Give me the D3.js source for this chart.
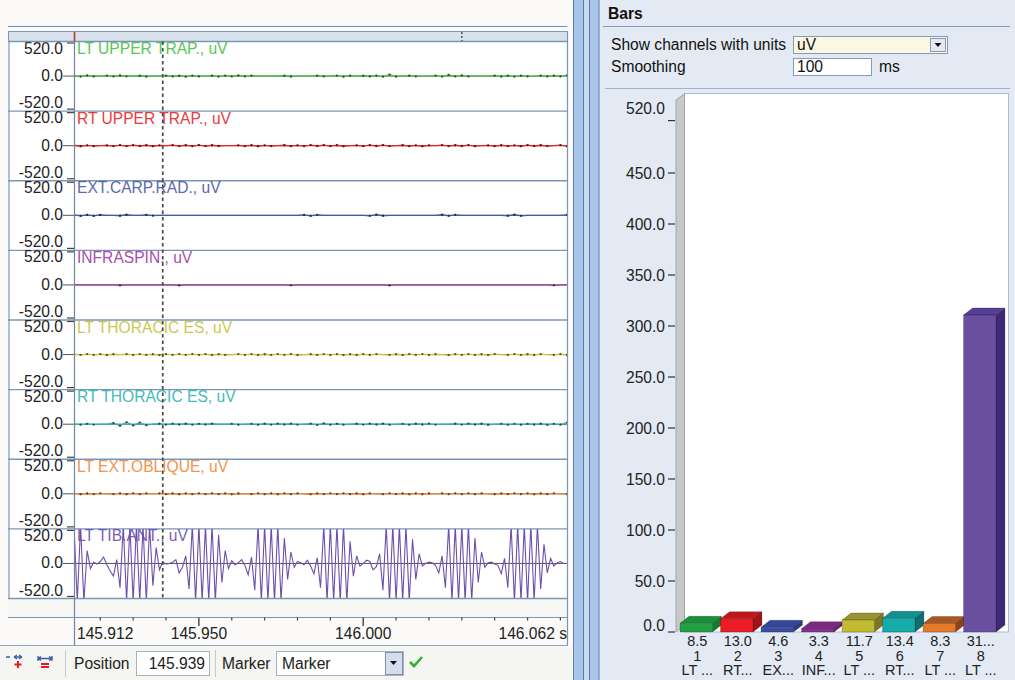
<!DOCTYPE html>
<html><head><meta charset="utf-8">
<script src="https://cdn.jsdelivr.net/npm/d3@7"></script>
<style>
body{margin:0;background:#fbfaf8;overflow:hidden;}
svg{display:block;font-family:"Liberation Sans",Arial,sans-serif;}
</style></head><body>
<svg id="c" width="1015" height="680"></svg>
<script>
// ---------------- DATA ----------------
const channels = ["LT UPPER TRAP.","RT UPPER TRAP.","EXT.CARP.RAD.","INFRASPIN.","LT THORACIC ES","RT THORACIC ES","LT EXT.OBLIQUE","LT TIB.ANT."];
const unitLabel = "uV";
const channelColors = ["#45c145","#e82626","#4a58a8","#a23a9f","#c8c43a","#2fb5b3","#ef8a3c","#6d4fae"];
const yTickVals = [520, 0, -520];
const yTickLabels = ["520.0","0.0","-520.0"];
const timeStart = 145.912, timeEnd = 146.062;
const timeTickVals = [145.912, 145.95, 146.0, 146.062];
const timeTickLabels = ["145.912","145.950","146.000","146.062 s"];
const minorTickVals = [145.92,145.93,145.94,145.96,145.97,145.98,145.99,146.01,146.02,146.03,146.04,146.05,146.06];
const cursorTime = 145.939;
const markerTime = 146.030;
const positionText = "145.939";

// small-amplitude channels, one value per 2 ms (uV)
const ch1 = [6,-8,10,-5,0,7,-6,9,-4,0, 5,-7,0,0,8,-6,5,-9,7,-5, 0,6,-8,7,-5,9,-6,8,0,0, 0,0,5,-7,0,0,0,6,-5,0,
             7,-9,6,0,5,-6,8,-10,22,-7, 0,6,-5,0,0,7,-8,18,-6,9, -5,0,0,0,6,-7,5,-8,6,-5, 0,8,-6,7,-5,12];
const ch2 = [7,-9,6,-8,0,5,-7,9,-6,8, -5,7,-9,6,0,8,-6,7,-8,9, -6,7,-5,0,0,6,-8,7,-9,5, -6,0,7,-8,6,-7,9,-5,8,-6,
             7,-9,0,6,-7,8,-5,9,-6,0, 7,-8,6,-9,5,0,8,-6,7,-5, 9,-7,0,6,-8,7,-6,5,-9,8, -5,7,-6,0,8,-7];
const ch3 = [8,-10,7,-9,6,0,0,-7,9,0, 0,8,-6,0,0,0,0,0,0,0, 0,0,0,0,0,0,0,0,0,0, 0,0,0,0,0,7,-9,8,0,0,
             0,0,0,0,0,-8,10,-7,0,0, 0,0,0,0,0,0,9,-8,7,0, 0,0,0,0,0,0,-7,9,-8,0, 0,0,0,0,0,6];
const ch4 = [0,0,0,0,0,0,0,-8,0,0, 0,0,0,0,0,0,-7,0,0,0, 0,0,0,0,0,0,0,0,0,0, 0,0,0,-6,0,0,0,0,0,0,
             0,0,0,0,0,0,0,0,-7,0, 0,0,0,0,0,0,0,0,0,0, 0,0,0,0,0,0,0,0,0,0, 0,0,0,-6,0,0];
const ch5 = [5,-6,7,-5,6,-7,5,0,6,-5, 7,-6,5,-8,6,-5,7,-6,8,-5, 6,-7,5,-6,0,7,-5,6,-7,5, -6,8,-5,6,-7,0,5,-6,7,-5,
             6,-8,5,-7,6,-5,7,0,-6,5, -7,6,-5,8,-6,5,0,-7,6,-5, 7,-6,5,-8,6,0,-5,7,-6,5, -7,6,0,-5,6,-7];
const ch6 = [6,-7,5,-6,0,0,18,-25,30,-20, 25,-15,0,7,-6,8,-5,7,-8,6, -5,7,0,0,6,-7,0,5,-8,7, -6,8,-5,7,-6,0,8,-10,14,-7,
             6,-8,0,7,-6,9,-5,8,-7,0, 6,-8,7,-5,9,-6,0,0,7,-6, 8,-5,7,-9,0,6,-7,5,-8,6, -5,7,-9,6,-8,25];
const ch7 = [6,-7,5,-6,7,0,-5,6,-7,8, -5,6,0,7,-6,5,-7,6,-5,8, -6,7,-5,6,-8,5,0,-6,7,-5, 6,-7,8,-5,6,0,-7,5,-6,7,
             -5,8,-6,5,-7,6,0,-5,7,-6, 5,-8,6,-7,5,0,6,-5,7,-6, 8,-5,6,0,-7,5,-6,7,-5,6, -8,5,-6,7,0,-5];
// LT TIB.ANT., one value per 1 ms (uV, saturates beyond +/-520)
const ch8 = [600,-600,600,-600,200,-80,20,-10,30,100,
             -20,-120,-200,60,-380,600,-600,600,-600,600,
             -600,600,-600,600,-350,250,-100,30,-10,0,
             20,60,-150,-60,120,-400,600,-600,600,-600,
             600,-600,600,-600,450,-300,200,-80,40,-20,
             10,60,-30,-180,100,-420,600,-600,600,-600,
             600,-600,600,-600,400,-250,180,-60,30,10,
             -20,50,-40,-160,90,-380,600,-600,600,-600,
             600,-600,600,-600,350,-200,120,-40,0,50,
             30,-100,-50,150,-420,600,-600,600,-600,600,
             -600,600,-600,380,-250,150,-40,0,20,10,
             -30,-150,120,-380,600,-600,600,-600,600,-600,
             600,-600,400,-300,180,-60,10,20,-10,-30,
             -160,80,-380,600,-600,600,-600,600,-600,600,
             -600,600,-400,300,-150,80,-40,10,30,0,
             0];
const signals = [ch1,ch2,ch3,ch4,ch5,ch6,ch7,ch8];

// bars panel
const barValues = [8.5,13.0,4.6,3.3,11.7,13.4,8.3,310.8];
const barValueLabels = ["8.5","13.0","4.6","3.3","11.7","13.4","8.3","31..."];
const barNumbers = ["1","2","3","4","5","6","7","8"];
const barNameLabels = ["LT ...","RT...","EX...","INF...","LT ...","RT...","LT ...","LT ..."];
const barTickVals = [0,50,100,150,200,250,300,350,400,450,520];
const barTickLabels = ["0.0","50.0","100.0","150.0","200.0","250.0","300.0","350.0","400.0","450.0","520.0"];
const barFront = ["#22a043","#ec1c24","#3a4ea0","#8b2d8f","#c2bb2f","#15aba9","#e5792a","#6a4f9f"];
const barTop   = ["#19913a","#c0161e","#34479a","#7a2880","#9a9532","#12918f","#a9561f","#573e96"];
const barSide  = ["#137a30","#9c1319","#283a82","#62206a","#7b7722","#0d6e6d","#8a4418","#3f2a78"];
const unitsOption = "uV", smoothingValue = "100", smoothingUnit = "ms";

// ---------------- DRAW ----------------
const svg = d3.select("#c");
const FS = 15.6;

// backgrounds
svg.append("rect").attr("x",0).attr("y",0).attr("width",568).attr("height",680).attr("fill","#fbfaf8");
svg.append("rect").attr("x",599).attr("y",0).attr("width",416).attr("height",680).attr("fill","#e3eaf3");

// splitter
svg.append("rect").attr("x",573.5).attr("y",-1).attr("width",10).attr("height",682).attr("fill","#a9c6ea").attr("stroke","#5a7fae");
svg.append("rect").attr("x",584).attr("y",-1).attr("width",5).attr("height",682).attr("fill","#c9dbf0");
svg.append("rect").attr("x",589.5).attr("y",-1).attr("width",9.5).attr("height",682).attr("fill","#a9c6ea").attr("stroke","#5a7fae");

// left panel frame
const L = 8, PX0 = 74, PX1 = 567, PTOP = 41.5, PBOT = 598.5;
svg.append("line").attr("x1",L).attr("x2",PX1).attr("y1",26.5).attr("y2",26.5).attr("stroke","#6f8fb1").attr("stroke-width",1.2);
svg.append("rect").attr("x",L+0.5).attr("y",31.5).attr("width",PX1-L).attr("height",10).attr("fill","#d8e2ec").attr("stroke","#7d98b5");
svg.append("rect").attr("x",L).attr("y",PTOP).attr("width",PX1-L).attr("height",PBOT-PTOP).attr("fill","#ffffff");
svg.append("rect").attr("x",L).attr("y",PBOT).attr("width",PX1-L).attr("height",18.5).attr("fill","#f7f7f4");

const x = d3.scaleLinear().domain([timeStart,timeEnd]).range([PX0,PX1]);
const band = d3.scaleBand().domain(channels).range([PTOP,PBOT]);
const defs = svg.append("defs");

channels.forEach((ch,i)=>{
  const top = band(ch), bot = top + band.bandwidth();
  const y = d3.scaleLinear().domain([-520,520]).range([bot-2, top+1.5]);
  const g = svg.append("g");
  defs.append("clipPath").attr("id","cp"+i).append("rect").attr("x",PX0).attr("y",top).attr("width",PX1-PX0).attr("height",bot-top);
  g.append("line").attr("x1",63).attr("x2",PX1).attr("y1",y(0)).attr("y2",y(0)).attr("stroke","#555").attr("stroke-width",1);
  [yTickVals[0], yTickVals[2]].forEach(v=>{
    g.append("line").attr("x1",67).attr("x2",PX0).attr("y1",y(v)).attr("y2",y(v)).attr("stroke","#444").attr("stroke-width",1.2);
  });
  yTickVals.forEach((v,k)=>{
    const dy = v>0 ? 10.5 : (v<0 ? -1 : 5);
    g.append("text").attr("x",63).attr("y",y(v)+dy).attr("text-anchor","end").attr("font-size",FS).attr("fill","#222").text(yTickLabels[k]);
  });
  const data = signals[i];
  const step = (timeEnd-timeStart)/(data.length-1);
  const pts = data.map((v,j)=>[x(timeStart+j*step), y(v)]);
  const sg = g.append("g").attr("clip-path","url(#cp"+i+")");
  sg.append("path").attr("d",d3.line()(pts)).attr("fill","none").attr("stroke",channelColors[i]).attr("stroke-width",i===7?1.1:1.3);
  if(i<7){
    const dark = d3.color(channelColors[i]).darker(2.2).formatHex();
    sg.selectAll("circle").data(pts.filter((p,j)=>data[j]!==0)).join("circle")
      .attr("cx",d=>d[0]).attr("cy",d=>d[1]).attr("r",1.15).attr("fill",dark);
  }
  g.append("text").attr("x",PX0+3).attr("y",top+12.5).attr("font-size",FS).attr("fill",channelColors[i]).attr("opacity",0.9).text(ch+", "+unitLabel);
  svg.append("line").attr("x1",L).attr("x2",PX1).attr("y1",bot).attr("y2",bot).attr("stroke","#7a96b4").attr("stroke-width",1.3);
});
svg.append("line").attr("x1",L).attr("x2",PX1).attr("y1",PTOP).attr("y2",PTOP).attr("stroke","#7a96b4").attr("stroke-width",1.3);

// verticals
svg.append("line").attr("x1",PX0+0.5).attr("x2",PX0+0.5).attr("y1",31.5).attr("y2",645).attr("stroke","#6d86a3").attr("stroke-width",1.2);
svg.append("line").attr("x1",PX1+0.5).attr("x2",PX1+0.5).attr("y1",31.5).attr("y2",645).attr("stroke","#7a96b4").attr("stroke-width",1.2);
svg.append("line").attr("x1",L+1).attr("x2",L+1).attr("y1",PTOP).attr("y2",PBOT).attr("stroke","#7a96b4").attr("stroke-width",1.2);
svg.append("line").attr("x1",PX0+0.5).attr("x2",PX0+0.5).attr("y1",32).attr("y2",41).attr("stroke","#c0392b").attr("stroke-width",1.5);
svg.append("line").attr("x1",x(markerTime)).attr("x2",x(markerTime)).attr("y1",32).attr("y2",41).attr("stroke","#555").attr("stroke-width",1.5).attr("stroke-dasharray","2,2");

// cursor
svg.append("line").attr("x1",x(cursorTime)).attr("x2",x(cursorTime)).attr("y1",PTOP).attr("y2",PBOT)
  .attr("stroke","#4a4a4a").attr("stroke-width",1.7).attr("stroke-dasharray","3.5,3");

// time axis
const AY = 617.5;
svg.append("line").attr("x1",L).attr("x2",PX1).attr("y1",AY).attr("y2",AY).attr("stroke","#7a96b4").attr("stroke-width",1.2);
minorTickVals.forEach(v=>{
  svg.append("line").attr("x1",x(v)).attr("x2",x(v)).attr("y1",AY).attr("y2",AY+3).attr("stroke","#444").attr("stroke-width",1.2);
});
timeTickVals.forEach((v,k)=>{
  if(k>0 && k<timeTickVals.length-1)
    svg.append("line").attr("x1",x(v)).attr("x2",x(v)).attr("y1",AY).attr("y2",AY+8.5).attr("stroke","#444").attr("stroke-width",1.4);
  const anchor = k===0?"start":(k===timeTickVals.length-1?"end":"middle");
  svg.append("text").attr("x",x(v)+(k===0?3:0)).attr("y",638.5).attr("text-anchor",anchor).attr("font-size",FS).attr("fill","#222").text(timeTickLabels[k]);
});
svg.append("line").attr("x1",0).attr("x2",PX1+1).attr("y1",645.5).attr("y2",645.5).attr("stroke","#8aa3bf").attr("stroke-width",1.2);

// toolbar
const tb = svg.append("g");
tb.append("rect").attr("x",0).attr("y",646.5).attr("width",572).attr("height",34).attr("fill","#f5f5f1");
tb.append("path").attr("d","M6,657 l4,0 M14,657 l8,0 M14,657 l3,-2 M14,657 l3,2 M22,657 l-3,-2 M22,657 l-3,2").attr("stroke","#3a5ea8").attr("stroke-width",1.3).attr("fill","none");
tb.append("path").attr("d","M18,661 l0,7 M14.5,664.5 l7,0").attr("stroke","#e02020").attr("stroke-width",2).attr("fill","none");
tb.append("path").attr("d","M38,656 l0,5 M52,656 l0,5 M38,658.5 l14,0 M38,658.5 l3,-2 M38,658.5 l3,2 M52,658.5 l-3,-2 M52,658.5 l-3,2").attr("stroke","#3a5ea8").attr("stroke-width",1.3).attr("fill","none");
tb.append("path").attr("d","M41,664 l8,0 M41,667 l8,0").attr("stroke","#e02020").attr("stroke-width",2).attr("fill","none");
tb.append("line").attr("x1",65.5).attr("x2",65.5).attr("y1",650).attr("y2",677).attr("stroke","#c8c8c4");
tb.append("text").attr("x",74).attr("y",668.5).attr("font-size",FS).attr("fill","#222").text("Position");
tb.append("rect").attr("x",136.5).attr("y",651.5).attr("width",73).attr("height",24).attr("fill","#fff").attr("stroke","#a9b3c0");
tb.append("text").attr("x",205).attr("y",668.5).attr("text-anchor","end").attr("font-size",FS).attr("fill","#222").text(positionText);
tb.append("line").attr("x1",215.5).attr("x2",215.5).attr("y1",650).attr("y2",677).attr("stroke","#c8c8c4");
tb.append("text").attr("x",222).attr("y",668.5).attr("font-size",FS).attr("fill","#222").text("Marker");
tb.append("rect").attr("x",276.5).attr("y",651.5).attr("width",127).attr("height",24).attr("fill","#fff").attr("stroke","#a9b3c0");
tb.append("text").attr("x",282).attr("y",668.5).attr("font-size",FS).attr("fill","#222").text("Marker");
tb.append("rect").attr("x",385.5).attr("y",652.5).attr("width",17).attr("height",22).attr("fill","#d5deee").attr("stroke","#7f8fb0");
tb.append("path").attr("d","M390,661 l7,0 l-3.5,4 z").attr("fill","#111");
tb.append("path").attr("d","M410,662 l4,4 l8,-9").attr("stroke","#2eb52e").attr("stroke-width",2.6).attr("fill","none");

// ---------------- right panel ----------------
const rp = svg.append("g");
rp.append("text").attr("x",608).attr("y",19).attr("font-size",FS).attr("font-weight","bold").attr("fill","#111").text("Bars");
rp.append("line").attr("x1",603).attr("x2",1010).attr("y1",26.5).attr("y2",26.5).attr("stroke","#7f9cbc").attr("stroke-width",1.2);
rp.append("text").attr("x",611).attr("y",50).attr("font-size",FS).attr("fill","#111").text("Show channels with units");
rp.append("rect").attr("x",793.5).attr("y",36.5).attr("width",154).attr("height",17).attr("fill","#fbf7e2").attr("stroke","#7f9db9");
rp.append("text").attr("x",797).attr("y",50).attr("font-size",FS).attr("fill","#111").text(unitsOption);
rp.append("rect").attr("x",930.5).attr("y",38.5).attr("width",15).attr("height",13).attr("fill","#e4e9f2").attr("stroke","#8c9bb3");
rp.append("path").attr("d","M934.5,43 l7,0 l-3.5,4 z").attr("fill","#111");
rp.append("text").attr("x",611).attr("y",72).attr("font-size",FS).attr("fill","#111").text("Smoothing");
rp.append("rect").attr("x",793.5).attr("y",58.5).attr("width",78).attr("height",17).attr("fill","#fff").attr("stroke","#7f9db9");
rp.append("text").attr("x",797).attr("y",72).attr("font-size",FS).attr("fill","#111").text(smoothingValue);
rp.append("text").attr("x",879).attr("y",72).attr("font-size",FS).attr("fill","#111").text(smoothingUnit);
rp.append("line").attr("x1",605).attr("x2",1010).attr("y1",88.5).attr("y2",88.5).attr("stroke","#9fb5cc").attr("stroke-width",1.2);

// bar chart
const yB = d3.scaleLinear().domain([0,520]).range([632,101.6]);
const xB = d3.scaleBand().domain(d3.range(barValues.length)).range([676,1000]).paddingInner(0.2).paddingOuter(0.1);
const DX = 9, DY = -7;
rp.append("rect").attr("x",684.5).attr("y",93.5).attr("width",324).attr("height",538.5).attr("fill","#fff").attr("stroke","#a8bcd3");
rp.append("path").attr("d",`M676,${yB(520)-1.6} L684.5,93.5 L684.5,${yB(0)+DY} L676,${yB(0)} Z`).attr("fill","#c8c8c8").attr("stroke","#9a9a9a").attr("stroke-width",0.8);

barTickVals.forEach((v,k)=>{
  const isTop = k===barTickVals.length-1, isZero = v===0;
  const ty = isTop ? yB(v)+19 : yB(v);
  rp.append("line").attr("x1",668).attr("x2",675).attr("y1",ty).attr("y2",ty).attr("stroke","#333").attr("stroke-width",1.2);
  const cy = isTop ? yB(v)+7 : (isZero ? yB(v)-7 : yB(v));
  rp.append("text").attr("x",665).attr("y",cy+5.5).attr("text-anchor","end").attr("font-size",FS).attr("fill","#222").text(barTickLabels[k]);
});

barValues.forEach((v,i)=>{
  const bx = xB(i), w = xB.bandwidth(), by = yB(v), b0 = yB(0);
  const g = rp.append("g").attr("stroke","rgba(0,0,0,0.35)").attr("stroke-width",0.6).attr("stroke-linejoin","round");
  g.append("path").attr("d",`M${bx+w},${by} L${bx+w+DX},${by+DY} L${bx+w+DX},${b0+DY} L${bx+w},${b0} Z`).attr("fill",barSide[i]);
  g.append("path").attr("d",`M${bx},${by} L${bx+DX},${by+DY} L${bx+w+DX},${by+DY} L${bx+w},${by} Z`).attr("fill",barTop[i]);
  g.append("rect").attr("x",bx).attr("y",by).attr("width",w).attr("height",b0-by).attr("fill",barFront[i]);
  const cx = bx + w/2 + 1;
  const lf = 14.5;
  rp.append("text").attr("x",cx).attr("y",646).attr("text-anchor","middle").attr("font-size",lf).attr("fill","#222").text(barValueLabels[i]);
  rp.append("text").attr("x",cx).attr("y",660.5).attr("text-anchor","middle").attr("font-size",lf).attr("fill","#222").text(barNumbers[i]);
  rp.append("text").attr("x",cx).attr("y",675).attr("text-anchor","middle").attr("font-size",lf).attr("fill","#222").text(barNameLabels[i]);
});
</script>
</body></html>
